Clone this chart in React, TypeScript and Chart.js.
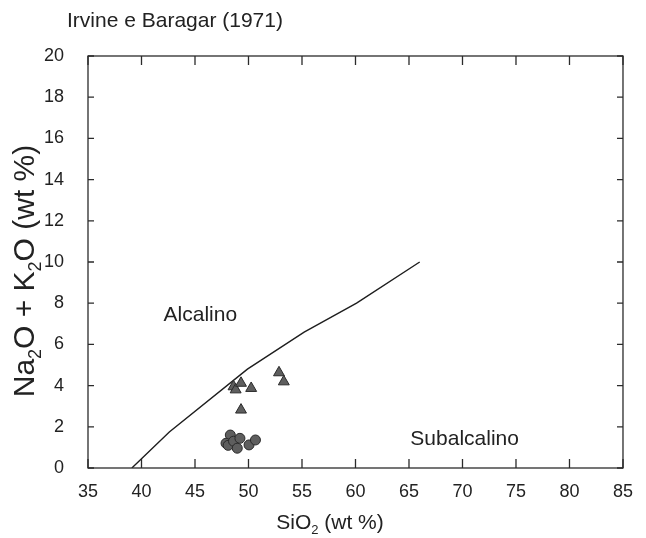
import React, { useEffect, useRef } from "react";
import { Chart, registerables } from "chart.js";

Chart.register(...registerables);

const FONT = '"Liberation Sans", Arial, Helvetica, sans-serif';
const INK = "#222222";

// Irvine & Baragar (1971) alkaline / subalkaline divide
const boundarySiO2 = [39.1, 42.6, 49.9, 55.2, 60.1, 66.0];
const boundaryAlk = [0, 1.75, 4.8, 6.6, 8.0, 10.0];

// Samples plotted as triangles
const triSiO2 = [48.6, 48.8, 49.3, 50.25, 49.3, 52.85, 53.3];
const triAlk = [3.95, 3.8, 4.12, 3.87, 2.82, 4.63, 4.19];

// Samples plotted as circles
const circSiO2 = [48.3, 47.9, 48.1, 48.6, 49.2, 48.95, 50.05, 50.65];
const circAlk = [1.6, 1.2, 1.1, 1.3, 1.44, 0.96, 1.12, 1.36];

// Axis ranges
const xMin = 35;
const xMax = 85;
const xStep = 5;
const yMin = 0;
const yMax = 20;
const yStep = 2;

// Field names and where they sit, in data units (x centre, baseline y)
const fieldNames = ["Alcalino", "Subalcalino"];
const fieldSiO2 = [45.5, 70.2];
const fieldAlk = [7.14, 1.12];

const titleText = "Irvine e Baragar (1971)";
type Part = { t: string; sub?: boolean };
const xTitleParts: Part[] = [{ t: "SiO" }, { t: "2", sub: true }, { t: " (wt %)" }];
const yTitleParts: Part[] = [
  { t: "Na" },
  { t: "2", sub: true },
  { t: "O + K" },
  { t: "2", sub: true },
  { t: "O (wt %)" },
];

const toPoints = (xs: number[], ys: number[]) => xs.map((x, i) => ({ x, y: ys[i] }));

// Draws text with subscripts, centred on (0,0) horizontally, alphabetic baseline at 0
function drawRich(ctx: CanvasRenderingContext2D, parts: Part[], size: number) {
  const subSize = Math.round(size * 0.6);
  const widths = parts.map((p) => {
    ctx.font = `${p.sub ? subSize : size}px ${FONT}`;
    return ctx.measureText(p.t).width;
  });
  const total = widths.reduce((a, b) => a + b, 0);
  let cx = -total / 2;
  ctx.textAlign = "left";
  ctx.textBaseline = "alphabetic";
  parts.forEach((p, i) => {
    ctx.font = `${p.sub ? subSize : size}px ${FONT}`;
    ctx.fillText(p.t, cx, p.sub ? size * 0.22 : 0);
    cx += widths[i];
  });
}

const framePlugin = {
  id: "tasFrame",
  afterDatasetsDraw(chart: any) {
    const { ctx, chartArea } = chart;
    const { left, right, top, bottom } = chartArea;
    const xs = chart.scales.x;
    const ys = chart.scales.y;
    ctx.save();
    ctx.strokeStyle = "#2b2b2b";
    ctx.lineWidth = 1.3;
    ctx.strokeRect(left, top, right - left, bottom - top);
    ctx.beginPath();
    xs.ticks.forEach((t: any) => {
      const px = xs.getPixelForValue(t.value);
      ctx.moveTo(px, bottom);
      ctx.lineTo(px, bottom - 9);
      ctx.moveTo(px, top);
      ctx.lineTo(px, top + 9);
    });
    ys.ticks.forEach((t: any) => {
      const py = ys.getPixelForValue(t.value);
      ctx.moveTo(left, py);
      ctx.lineTo(left + 6, py);
      ctx.moveTo(right, py);
      ctx.lineTo(right - 6, py);
    });
    ctx.stroke();

    ctx.fillStyle = INK;
    // field names
    ctx.font = `21px ${FONT}`;
    ctx.textAlign = "center";
    ctx.textBaseline = "alphabetic";
    fieldNames.forEach((name, i) => {
      ctx.fillText(name, xs.getPixelForValue(fieldSiO2[i]), ys.getPixelForValue(fieldAlk[i]));
    });

    // chart title
    ctx.font = `21px ${FONT}`;
    ctx.textAlign = "left";
    ctx.fillText(titleText, 67, 27);

    // x axis title
    ctx.save();
    ctx.translate(330, 529);
    drawRich(ctx, xTitleParts, 21);
    ctx.restore();

    // y axis title
    ctx.save();
    ctx.translate(34, 271);
    ctx.rotate(-Math.PI / 2);
    drawRich(ctx, yTitleParts, 30);
    ctx.restore();

    ctx.restore();
  },
};

export default function App() {
  const canvasRef = useRef<HTMLCanvasElement | null>(null);

  useEffect(() => {
    document.body.style.margin = "0";
    const canvas = canvasRef.current;
    if (!canvas) return;
    const chart = new Chart(canvas, {
      type: "scatter",
      data: {
        datasets: [
          {
            type: "line",
            data: toPoints(boundarySiO2, boundaryAlk),
            borderColor: "#1e1e1e",
            borderWidth: 1.4,
            pointRadius: 0,
            fill: false,
            tension: 0,
            order: 3,
          } as any,
          {
            data: toPoints(triSiO2, triAlk),
            pointStyle: "triangle",
            pointRadius: 6.3,
            backgroundColor: "#5e5e5e",
            borderColor: "#2a2a2a",
            borderWidth: 1,
            order: 2,
          },
          {
            data: toPoints(circSiO2, circAlk),
            pointStyle: "circle",
            pointRadius: 5,
            backgroundColor: "#5e5e5e",
            borderColor: "#2a2a2a",
            borderWidth: 1,
            order: 1,
          },
        ],
      },
      options: {
        animation: false,
        responsive: true,
        maintainAspectRatio: false,
        layout: { padding: { left: 0, top: 56, right: 20, bottom: 0 } },
        plugins: {
          legend: { display: false },
          title: { display: false },
          tooltip: { enabled: false },
        },
        scales: {
          x: {
            type: "linear",
            min: xMin,
            max: xMax,
            grid: { display: false, drawTicks: false },
            border: { display: false },
            ticks: {
              stepSize: xStep,
              padding: 13,
              color: INK,
              font: { family: FONT, size: 18 },
              maxRotation: 0,
            },
            afterFit: (scale: any) => {
              scale.height = 70;
            },
          },
          y: {
            type: "linear",
            min: yMin,
            max: yMax,
            grid: { display: false, drawTicks: false },
            border: { display: false },
            ticks: {
              stepSize: yStep,
              padding: 24,
              color: INK,
              font: { family: FONT, size: 18 },
            },
            afterFit: (scale: any) => {
              scale.width = 88;
            },
          },
        },
      },
      plugins: [framePlugin],
    });
    return () => chart.destroy();
  }, []);

  return (
    <div style={{ position: "relative", width: 646, height: 538, background: "#fff" }}>
      <canvas ref={canvasRef} />
    </div>
  );
}
